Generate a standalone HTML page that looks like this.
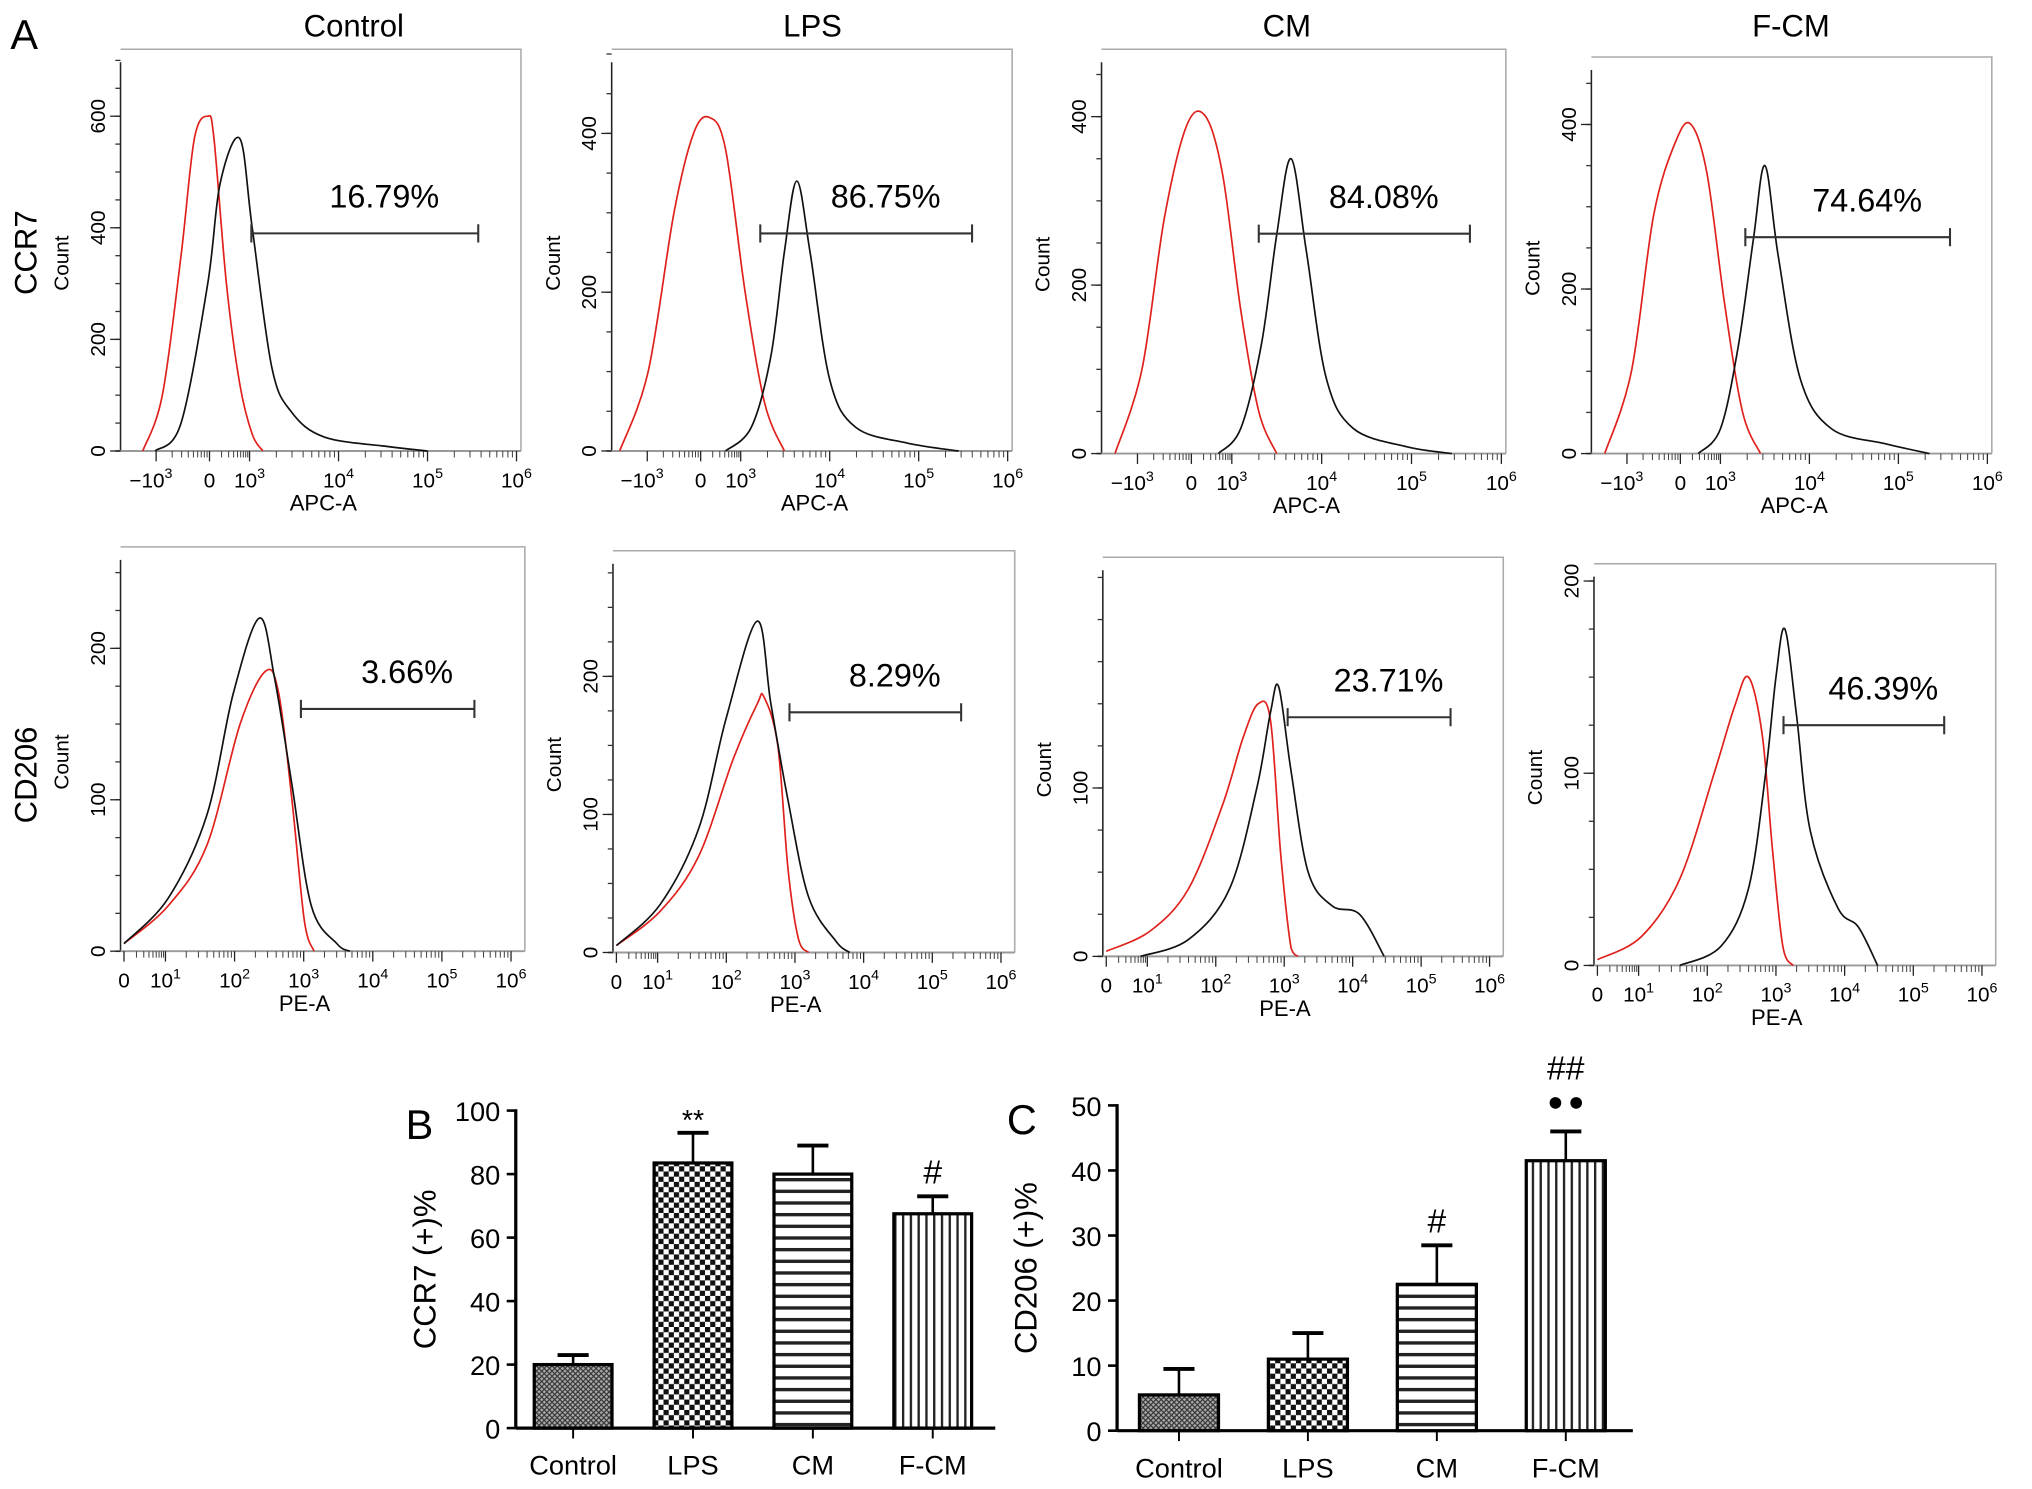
<!DOCTYPE html>
<html><head><meta charset="utf-8"><style>
html,body{margin:0;padding:0;background:#fff}
svg{display:block;font-family:"Liberation Sans",sans-serif}
</style></head><body>
<svg id="fig" width="2032" height="1489" viewBox="0 0 1568 1149" xmlns="http://www.w3.org/2000/svg">
<defs>
<pattern id="pCtrl" width="4" height="4" patternUnits="userSpaceOnUse"><rect width="4" height="4" fill="#aaa"/><path d="M0 0L4 4M4 0L0 4" stroke="#333" stroke-width="0.9"/></pattern>
<pattern id="pLps" width="8" height="8" patternUnits="userSpaceOnUse"><rect width="8" height="8" fill="#fff"/><rect width="4" height="4" fill="#111"/><rect x="4" y="4" width="4" height="4" fill="#111"/></pattern>
<pattern id="pCm" width="8" height="9" patternUnits="userSpaceOnUse"><rect width="8" height="9" fill="#fff"/><rect y="0" width="8" height="2.6" fill="#222"/></pattern>
<pattern id="pFcm" width="6" height="8" patternUnits="userSpaceOnUse"><rect width="6" height="8" fill="#fff"/><rect x="0" width="1.8" height="8" fill="#222"/></pattern>
</defs>
<text x="8" y="38" font-size="32">A</text>
</svg>
<script>
const svg=document.getElementById('fig');
const NS='http://www.w3.org/2000/svg';
function mk(tag,attrs,parent){const e=document.createElementNS(NS,tag);for(const k in attrs)e.setAttribute(k,attrs[k]);(parent||svg).appendChild(e);return e;}

// ---------- Histogram data (x in display-scale units, y in counts) ----------
const groupTitles=['Control','LPS','CM','F-CM'];
const ccr7Pct=['16.79%','86.75%','84.08%','74.64%'];
const cd206Pct=['3.66%','8.29%','23.71%','46.39%'];
const row1Red=[
 [[-0.75,0],[-0.53,100],[-0.32,350],[-0.17,560],[-0.02,600],[0.05,560],[0.19,300],[0.34,120],[0.48,30],[0.6,0]],
 [[-0.91,0],[-0.59,100],[-0.3,300],[-0.08,400],[0.1,420],[0.28,380],[0.5,200],[0.72,60],[0.94,0]],
 [[-0.85,0],[-0.55,100],[-0.3,280],[-0.05,390],[0.16,400],[0.35,330],[0.55,170],[0.75,50],[0.95,0]],
 [[-0.85,0],[-0.55,100],[-0.3,290],[-0.05,380],[0.12,400],[0.3,340],[0.5,180],[0.7,50],[0.9,0]]];
const row1Black=[
 [[-0.61,0],[-0.32,50],[-0.02,300],[0.12,480],[0.34,560],[0.48,400],[0.7,150],[0.92,70],[1.29,25],[2.0,8],[2.45,0]],
 [[0.28,0],[0.57,30],[0.79,120],[0.94,250],[1.08,340],[1.23,250],[1.45,90],[1.74,30],[2.32,10],[2.9,0]],
 [[0.3,0],[0.55,30],[0.78,130],[0.95,260],[1.11,350],[1.28,240],[1.5,90],[1.8,30],[2.4,8],[2.9,0]],
 [[0.2,0],[0.45,30],[0.65,130],[0.82,260],[0.95,350],[1.1,240],[1.35,90],[1.7,30],[2.3,12],[2.8,0]]];
const row1Ymax=[720,506,480,482];
const row1Yticks=[[0,200,400,600],[0,200,400],[0,200,400],[0,200,400]];
const row1Gate=[[0.47,3.02,390],[0.67,3.05,274],[0.75,3.1,261],[0.73,3.03,263]];
const row1XTicks=['\u2212103','0','103','104','105','106'];
const row1XTickU=[-0.6,0,0.45,1.45,2.45,3.45];

const row2Red=[
 [[0,5],[0.64,30],[1.2,70],[1.68,150],[2.05,185],[2.24,170],[2.43,100],[2.61,20],[2.75,0]],
 [[0,5],[0.64,30],[1.2,70],[1.7,140],[2.05,180],[2.15,185],[2.35,150],[2.5,60],[2.65,10],[2.8,0]],
 [[0,3],[0.64,15],[1.2,40],[1.7,90],[2.0,130],[2.22,150],[2.4,140],[2.55,60],[2.7,5],[2.8,0]],
 [[0,3],[0.64,15],[1.2,45],[1.7,100],[2.0,135],[2.2,150],[2.4,120],[2.55,60],[2.7,10],[2.85,0]]];
const row2Black=[
 [[0,5],[0.64,35],[1.2,90],[1.58,170],[1.96,220],[2.18,180],[2.43,110],[2.71,30],[3.08,5],[3.27,0]],
 [[0,5],[0.64,35],[1.2,90],[1.6,170],[2.05,240],[2.25,180],[2.5,110],[2.8,40],[3.2,8],[3.4,0]],
 [[0.5,0],[1.2,10],[1.8,40],[2.2,100],[2.4,145],[2.52,160],[2.7,110],[2.95,50],[3.3,30],[3.7,25],[4.06,0]],
 [[1.2,0],[1.8,10],[2.2,40],[2.45,100],[2.6,150],[2.73,175],[2.9,130],[3.1,70],[3.5,30],[3.8,20],[4.08,0]]];
const row2Ymax=[267,291,237,209];
const row2Yticks=[[0,100,200],[0,100,200],[0,100],[0,100,200]];
const row2Gate=[[2.56,5.07,160],[2.52,5.02,174],[2.65,5.03,142],[2.71,5.05,125]];
const row2XTickU=[0,0.6,1.6,2.6,3.6,4.6,5.6];

const row1Frames=[[93,38,402,348],[472,38,781,348],[850,38,1162,350],[1228,44,1537,350]];
const row2Frames=[[93,422,405,734],[473,425,783,735],[851,430,1160,738],[1230,435,1540,745]];
const titleX=[273,627,993,1382];

function smoothPath(pts){
  let d=`M${pts[0][0]} ${pts[0][1]}`;
  for(let i=0;i<pts.length-1;i++){
    const p0=pts[Math.max(0,i-1)],p1=pts[i],p2=pts[i+1],p3=pts[Math.min(pts.length-1,i+2)];
    const c1x=p1[0]+(p2[0]-p0[0])/6,c1y=p1[1]+(p2[1]-p0[1])/6;
    const c2x=p2[0]-(p3[0]-p1[0])/6,c2y=p2[1]-(p3[1]-p1[1])/6;
    d+=`C${c1x} ${Math.min(c1y,Math.max(p1[1],p2[1])+0)} ${c2x} ${Math.min(c2y,Math.max(p1[1],p2[1]))} ${p2[0]} ${p2[1]}`;
  }
  return d;
}

function supTick(g,x,y,label){
  const t=mk('text',{x:x,y:y,'font-size':16,'text-anchor':'middle'},g);
  if(label==='0'){t.textContent='0';return t;}
  const neg=label[0]==='\u2212';const exp=label.slice(-1);
  const s1=mk('tspan',{},t);s1.textContent=(neg?'\u2212':'')+'10';
  const s2=mk('tspan',{dy:-7,'font-size':11},t);s2.textContent=exp;
  return t;
}

function drawHist(fr,dom,ymax,yticks,red,black,gate,pct,tickU,tickLabels,xlabel,name){
  const g=mk('g',{});
  
  
  const [L,T,R,B]=fr;
  const xs=u=>L+(u-dom[0])/(dom[1]-dom[0])*(R-L);
  const ys=c=>B-c/ymax*(B-T);
  mk('path',{d:`M${L} ${T}H${R}V${B}`,fill:'none',stroke:'#aaa','stroke-width':1.2},g);
  mk('line',{x1:L,y1:T+10,x2:L,y2:B,stroke:'#222','stroke-width':1.2},g);
  mk('line',{x1:L-4,y1:B,x2:R,y2:B,stroke:'#999','stroke-width':1.5},g);
  for(let i=0;i<tickU.length-1;i++){
    for(let k=1;k<10;k++){const u=tickU[i]+(tickU[i+1]-tickU[i])*Math.log10(k+1);
      if(u<tickU[i+1]) mk('line',{x1:xs(u),y1:B,x2:xs(u),y2:B+5,stroke:'#444','stroke-width':0.8},g);}
  }
  tickU.forEach((u,i)=>{
    mk('line',{x1:xs(u),y1:B,x2:xs(u),y2:B+8,stroke:'#222','stroke-width':1},g);
    const t=supTick(g,xs(u)+(i===0&&tickLabels[0]!=='0'?-4:0),B+28,tickLabels[i]);
    
    
  });
  const step=yticks[1]-yticks[0];
  for(let c=0;c<=ymax;c+=step/4) mk('line',{x1:L-4,y1:ys(c),x2:L,y2:ys(c),stroke:'#333','stroke-width':1},g);
  yticks.forEach(c=>{
    mk('line',{x1:L-8,y1:ys(c),x2:L,y2:ys(c),stroke:'#222','stroke-width':1},g);
    const t=mk('text',{x:L-12,y:ys(c),'font-size':16,'text-anchor':'middle',transform:`rotate(-90 ${L-12} ${ys(c)})`},g);
    t.textContent=c;
    
    
  });
  const ct=mk('text',{x:L-40,y:(T+B)/2+10,'font-size':16,'text-anchor':'middle',transform:`rotate(-90 ${L-40} ${(T+B)/2+10})`},g);
  ct.textContent='Count';
  
  
  const xl=mk('text',{x:(xs(tickU[0])+xs(tickU[tickU.length-1]))/2-10,y:B+46,'font-size':17,'text-anchor':'middle'},g);
  xl.textContent=xlabel;
  
  
  const rp=mk('path',{d:smoothPath(red.map(p=>[xs(p[0]),ys(p[1])])),fill:'none',stroke:'#e0201b','stroke-width':1.3},g);
  
  
  const bp=mk('path',{d:smoothPath(black.map(p=>[xs(p[0]),ys(p[1])])),fill:'none',stroke:'#111','stroke-width':1.3},g);
  
  
  const gy=ys(gate[2]),gx1=xs(gate[0]),gx2=xs(gate[1]);
  const gl=mk('path',{d:`M${gx1} ${gy-7}V${gy+7}M${gx1} ${gy}H${gx2}M${gx2} ${gy-7}V${gy+7}`,stroke:'#333','stroke-width':1.6,fill:'none'},g);
  
  
  const pt=mk('text',{x:(gx1+gx2)/2+15,y:gy-20,'font-size':25,'text-anchor':'middle'},g);
  pt.textContent=pct;
  
  
}

for(let i=0;i<4;i++){
  const t=mk('text',{x:titleX[i],y:28,'font-size':24,'text-anchor':'middle'});
  t.textContent=groupTitles[i];
  
  
  drawHist(row1Frames[i],[-1,3.5],row1Ymax[i],row1Yticks[i],row1Red[i],row1Black[i],row1Gate[i],ccr7Pct[i],row1XTickU,row1XTicks,'APC-A','ccr7-histogram-'+i);
  drawHist(row2Frames[i],[-0.05,5.8],row2Ymax[i],row2Yticks[i],row2Red[i],row2Black[i],row2Gate[i],cd206Pct[i],row2XTickU,['0','101','102','103','104','105','106'],'PE-A','cd206-histogram-'+i);
}
[['CCR7',195],['CD206',598]].forEach(([s,y])=>{
  const t=mk('text',{x:28,y:y,'font-size':24,'text-anchor':'middle',transform:`rotate(-90 28 ${y})`});
  t.textContent=s;
  
  
});

// ---------- Bar charts ----------
const barCats=['Control','LPS','CM','F-CM'];
const ccr7Means=[20,83.5,80,67.5];
const ccr7Errs=[3,9.5,9,5.5];
const ccr7Marks=['','**','','#'];
const cd206Means=[5.5,11,22.5,41.5];
const cd206Errs=[4,4,6,4.5];
const cd206Marks=['','','#','##'];
const bTicks=[0,20,40,60,80,100];
const cTicks=[0,10,20,30,40,50];
const fills=['url(#pCtrl)','url(#pLps)','url(#pCm)','url(#pFcm)'];

function barChart(o){
  const g=mk('g',{});
  
  
  const ys=v=>o.y0-(v/o.max)*(o.y0-o.yTop);
  const pl=mk('text',{x:o.ax-85,y:o.yTop+22,'font-size':32},g);
  pl.textContent=o.panel;
  
  
  mk('line',{x1:o.ax,y1:ys(o.max)-1,x2:o.ax,y2:o.y0,stroke:'#000','stroke-width':2.5},g);
  mk('line',{x1:o.ax,y1:o.y0,x2:o.xEnd,y2:o.y0,stroke:'#000','stroke-width':2.5},g);
  o.ticks.forEach(v=>{
    mk('line',{x1:o.ax-7,y1:ys(v),x2:o.ax,y2:ys(v),stroke:'#000','stroke-width':2},g);
    const t=mk('text',{x:o.ax-12,y:ys(v)+8,'font-size':21,'text-anchor':'end'},g);
    t.textContent=v;
    
    
  });
  const yt=mk('text',{x:o.ax-62,y:(o.y0+o.yTop)/2,'font-size':24,'text-anchor':'middle',transform:`rotate(-90 ${o.ax-62} ${(o.y0+o.yTop)/2})`},g);
  yt.textContent=o.ylabel;
  
  
  const slot=(o.xEnd-o.ax)/4;
  barCats.forEach((c,i)=>{
    const cx=o.ax+slot*(i+0.5)-2, w=o.bw;
    const top=ys(o.means[i]), et=ys(o.means[i]+o.errs[i]);
    mk('line',{x1:cx,y1:et,x2:cx,y2:top,stroke:'#000','stroke-width':2},g);
    mk('line',{x1:cx-12,y1:et,x2:cx+12,y2:et,stroke:'#000','stroke-width':3},g);
    const r=mk('rect',{x:cx-w/2,y:top,width:w,height:o.y0-top,fill:fills[i],stroke:'#000','stroke-width':2.5},g);
    
    
    mk('line',{x1:cx,y1:o.y0,x2:cx,y2:o.y0+8,stroke:'#000','stroke-width':1.5},g);
    const t=mk('text',{x:cx,y:o.y0+36,'font-size':21,'text-anchor':'middle'},g);
    t.textContent=c;
    
    
    if(o.marks[i]){
      const m=mk('text',{x:cx,y:et-(o.marks[i]==='**'?2:10),'font-size':o.marks[i]==='**'?22:26,'text-anchor':'middle'},g);
      m.textContent=o.marks[i];
      
      
      if(o.dots&&o.dots[i]){
        m.setAttribute('y',et-40);
        mk('circle',{cx:cx-8,cy:et-22,r:4.5,fill:'#000'},g);
        mk('circle',{cx:cx+8,cy:et-22,r:4.5,fill:'#000'},g);
      }
    }
  });
}
barChart({name:'ccr7-bar-chart',panel:'B',ax:398,xEnd:768,y0:1102,yTop:857,max:100,bw:60,ticks:bTicks,means:ccr7Means,errs:ccr7Errs,marks:ccr7Marks,ylabel:'CCR7 (+)%'});
barChart({name:'cd206-bar-chart',panel:'C',ax:862,xEnd:1260,y0:1104,yTop:853,max:50,bw:61,ticks:cTicks,means:cd206Means,errs:cd206Errs,marks:cd206Marks,dots:[0,0,0,1],ylabel:'CD206 (+)%'});
</script>
</body></html>
